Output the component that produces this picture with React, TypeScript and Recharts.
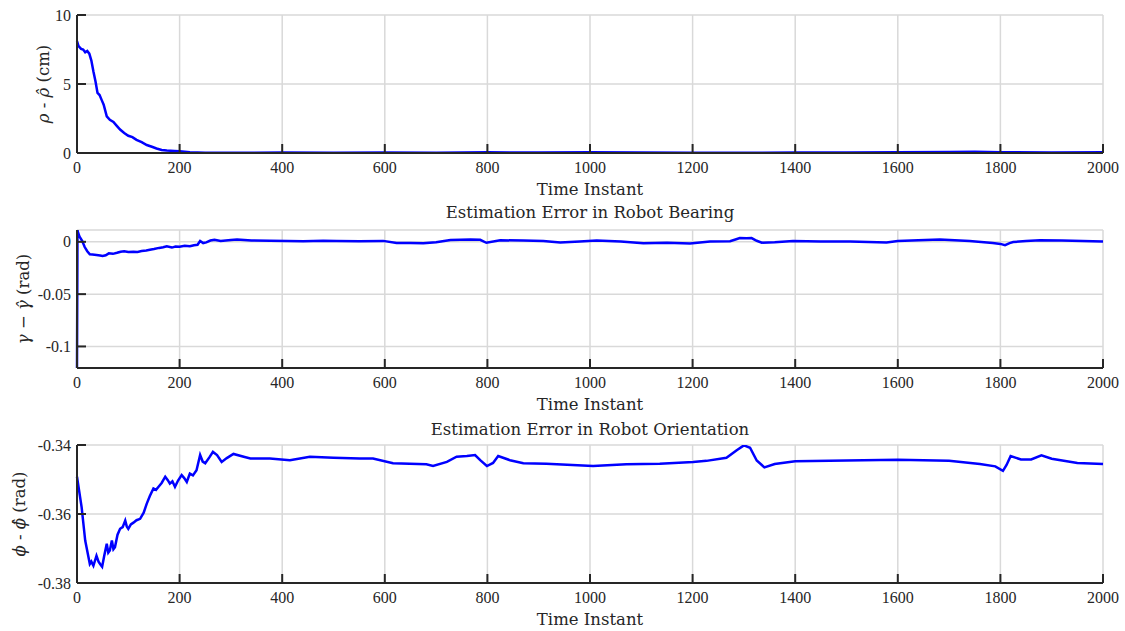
import { LineChart, Line, XAxis, YAxis, CartesianGrid } from 'recharts';

// time instants + values
const rhoT = [0, 3, 8, 12, 16, 20, 24, 28, 32, 36, 40, 44, 48, 52, 58, 64, 71, 78, 84, 92, 100, 108, 116, 126, 136, 146, 155, 165, 175, 190, 200, 220, 250, 300, 400, 500, 600, 700, 800, 900, 1000, 1100, 1200, 1300, 1400, 1500, 1600, 1700, 1750, 1800, 1900, 2000];
const rhoV = [8.1, 7.75, 7.55, 7.5, 7.3, 7.4, 7.2, 6.7, 5.9, 5.2, 4.35, 4.2, 3.85, 3.5, 2.65, 2.4, 2.25, 1.95, 1.7, 1.45, 1.25, 1.15, 0.95, 0.78, 0.58, 0.45, 0.33, 0.22, 0.18, 0.15, 0.12, 0.06, 0.02, 0.01, 0.03, 0.01, 0.04, 0.02, 0.05, 0.03, 0.05, 0.03, 0.02, 0.01, 0.04, 0.03, 0.05, 0.08, 0.09, 0.05, 0.04, 0.06];

const gammaT = [0, 1, 2, 5, 10, 15, 20, 25, 30, 38, 45, 50, 56, 62, 70, 78, 85, 92, 100, 110, 118, 126, 135, 142, 150, 160, 168, 175, 185, 192, 200, 210, 220, 228, 235, 240, 246, 252, 260, 268, 280, 300, 312, 340, 376, 410, 441, 480, 506, 550, 597, 623, 650, 675, 700, 728, 767, 786, 798, 825, 870, 909, 942, 980, 1013, 1060, 1104, 1150, 1195, 1234, 1273, 1285, 1292, 1305, 1315, 1325, 1335, 1360, 1396, 1450, 1507, 1578, 1600, 1640, 1682, 1740, 1785, 1800, 1809, 1818, 1825, 1850, 1877, 1920, 1960, 2000];
const gammaV = [-0.1205, 0.0113, 0.009, 0.005, 0.001, -0.005, -0.009, -0.012, -0.0122, -0.0125, -0.013, -0.0135, -0.0128, -0.011, -0.0115, -0.0105, -0.0095, -0.009, -0.0098, -0.0096, -0.0097, -0.0088, -0.0082, -0.0075, -0.0068, -0.0058, -0.0052, -0.0042, -0.0055, -0.0045, -0.0048, -0.0038, -0.0042, -0.0032, -0.0028, 0.0008, -0.0012, -0.0005, 0.0012, 0.002, 0.0008, 0.0018, 0.0021, 0.0012, 0.001, 0.0007, 0.0005, 0.001, 0.0009, 0.0006, 0.0009, -0.0012, -0.0011, -0.0014, -0.0004, 0.0018, 0.0021, 0.0019, -0.0009, 0.0015, 0.0012, 0.0008, -0.0006, 0.0004, 0.0012, 0.0002, -0.0013, -0.0008, -0.0016, 0.0002, 0.0006, 0.0025, 0.0036, 0.0034, 0.0036, 0.001, -0.0008, -0.0004, 0.0008, 0.0004, 0.0003, -0.0007, 0.0008, 0.0016, 0.0023, 0.0008, -0.0012, -0.002, -0.0032, -0.0012, -0.0002, 0.0008, 0.0016, 0.0012, 0.0009, 0.0004];

const phiT = [0, 9, 16, 25, 28, 32, 38, 42, 45, 49, 53, 58, 61, 64, 68, 71, 74, 79, 84, 89, 94, 97, 100, 105, 110, 116, 123, 130, 136, 142, 149, 154, 159, 165, 172, 177, 181, 186, 191, 197, 204, 209, 214, 220, 226, 233, 240, 245, 250, 258, 265, 273, 282, 292, 305, 325, 338, 376, 415, 454, 500, 551, 577, 616, 681, 694, 721, 740, 760, 776, 786, 799, 811, 821, 844, 870, 915, 1006, 1071, 1136, 1201, 1227, 1266, 1286, 1300, 1312, 1325, 1340, 1360, 1400, 1500, 1600, 1700, 1760, 1790, 1805, 1812, 1820, 1840, 1860, 1880, 1900, 1950, 2000];
const phiV = [-0.3492, -0.358, -0.3677, -0.3745, -0.3738, -0.375, -0.3721, -0.3738, -0.3745, -0.3753, -0.3722, -0.3686, -0.3712, -0.3706, -0.3677, -0.3702, -0.3696, -0.366, -0.3643, -0.3638, -0.3619, -0.3636, -0.3643, -0.363, -0.3625, -0.3618, -0.3614, -0.3596, -0.357, -0.3548, -0.3526, -0.353, -0.3521, -0.351, -0.3492, -0.3502, -0.3512, -0.3505, -0.3521, -0.3503, -0.3487, -0.3496, -0.3507, -0.3483, -0.3488, -0.3473, -0.3429, -0.3448, -0.3453, -0.3436, -0.342, -0.3429, -0.3449, -0.3438, -0.3426, -0.3434, -0.3439, -0.3439, -0.3444, -0.3434, -0.3437, -0.3439, -0.3439, -0.3453, -0.3456, -0.3461, -0.3449, -0.3434, -0.3432, -0.3429, -0.3444, -0.3461, -0.3452, -0.3432, -0.3444, -0.3453, -0.3454, -0.3461, -0.3456, -0.3454, -0.3449, -0.3446, -0.3437, -0.3415, -0.3401, -0.3408, -0.3445, -0.3465, -0.3455, -0.3447, -0.3445, -0.3443, -0.3446, -0.3455, -0.3462, -0.3475, -0.3458, -0.3432, -0.3442, -0.3442, -0.343, -0.344, -0.3452, -0.3455];

const xTicks = [0, 200, 400, 600, 800, 1000, 1200, 1400, 1600, 1800, 2000];

const TICK_FONT = '"Liberation Serif", serif';
const TEXT_FONT = '"DejaVu Serif", serif';
const AXIS = '#262626';

const toRows = (t: number[], v: number[]) => t.map((x, i) => ({ t: x, v: v[i] }));

const XTick = ({ x, y, payload }: any) => (
  <g>
    <line x1={x} x2={x} y1={y} y2={y - 9} stroke={AXIS} strokeWidth={2} />
    <text x={x} y={y + 20} textAnchor="middle" fontSize={16} fontFamily={TICK_FONT} fill="#262626">
      {payload.value}
    </text>
  </g>
);

const YTick = ({ x, y, payload }: any) => (
  <g>
    <line x1={x} x2={x + 9} y1={y} y2={y} stroke={AXIS} strokeWidth={2} />
    <text x={x - 6} y={y + 5.5} textAnchor="end" fontSize={16} fontFamily={TICK_FONT} fill="#262626">
      {payload.value}
    </text>
  </g>
);

function Panel({ top, rows, domain, yTicks, yLabel, labelX }: any) {
  const xLabel = (p: any) => {
    const vb = p.viewBox;
    return (
      <text x={vb.x + vb.width / 2} y={vb.y + 42} textAnchor="middle" fontSize={16.5} fontFamily={TEXT_FONT} fill="#262626">
        Time Instant
      </text>
    );
  };
  const yLab = (p: any) => {
    const vb = p.viewBox;
    const cy = vb.y + vb.height / 2;
    return (
      <text x={labelX} y={cy} transform={`rotate(-90 ${labelX} ${cy})`} textAnchor="middle" dominantBaseline="central"
        fontSize={16.5} fontFamily={TEXT_FONT} fill="#262626">
        {yLabel}
      </text>
    );
  };
  return (
    <div style={{ position: 'absolute', left: 0, top }}>
      <LineChart width={1125} height={200} data={rows} margin={{ top: 15, right: 22, left: 0, bottom: 0 }}>
        <CartesianGrid stroke="#d9d9d9" strokeWidth={1.5} />
        <XAxis dataKey="t" type="number" domain={[0, 2000]} ticks={xTicks} height={47}
          axisLine={{ stroke: AXIS, strokeWidth: 2 }} tickLine={false} tickSize={0} tickMargin={0}
          tick={<XTick />} interval={0} label={xLabel} />
        <YAxis type="number" domain={domain} ticks={yTicks} width={77} allowDataOverflow
          axisLine={{ stroke: AXIS, strokeWidth: 2 }} tickLine={false} tickSize={0} tickMargin={0}
          tick={<YTick />} interval={0} label={yLab} />
        <Line type="linear" dataKey="v" stroke="#0000ff" strokeWidth={2.5} dot={false} isAnimationActive={false} />
      </LineChart>
    </div>
  );
}

const titleStyle: any = {
  position: 'absolute', left: 77, width: 1026, textAlign: 'center',
  fontFamily: TEXT_FONT, fontSize: 16.5, lineHeight: '20px', color: '#262626',
};

export default function App() {
  return (
    <div style={{ position: 'absolute', left: 0, top: 0, width: 1125, height: 631, background: '#fff', overflow: 'hidden' }}>
      <Panel top={0} rows={toRows(rhoT, rhoV)} domain={[0, 10]} yTicks={[0, 5, 10]}
        labelX={43} yLabel={<><tspan fontStyle="italic">ρ</tspan> - <tspan fontStyle="italic">ρ̂</tspan> (cm)</>} />
      <Panel top={215} rows={toRows(gammaT, gammaV)} domain={[-0.1206, 0.0113]} yTicks={[-0.1, -0.05, 0]}
        labelX={23} yLabel={<><tspan fontStyle="italic">γ</tspan> − <tspan fontStyle="italic">γ̂</tspan> (rad)</>} />
      <Panel top={430} rows={toRows(phiT, phiV)} domain={[-0.38, -0.34]} yTicks={[-0.38, -0.36, -0.34]}
        labelX={19} yLabel={<><tspan fontStyle="italic">ϕ</tspan> - <tspan fontStyle="italic">ϕ̂</tspan> (rad)</>} />
      <div style={{ ...titleStyle, top: 203 }}>Estimation Error in Robot Bearing</div>
      <div style={{ ...titleStyle, top: 420 }}>Estimation Error in Robot Orientation</div>
    </div>
  );
}
